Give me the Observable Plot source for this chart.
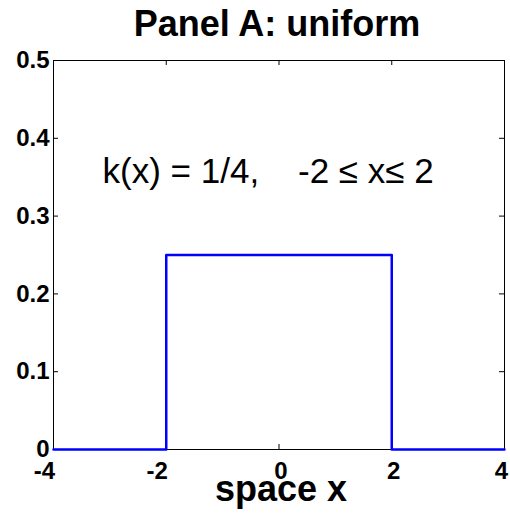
<!DOCTYPE html>
<html>
<head>
<meta charset="utf-8">
<script src="https://cdn.jsdelivr.net/npm/d3@7"></script>
<script src="https://cdn.jsdelivr.net/npm/@observablehq/plot@0.6"></script>
<style>
  body { margin: 0; background: #fff; }
  svg { font-family: "Liberation Sans", Arial, sans-serif; }
</style>
</head>
<body>
<div id="chart"></div>
<script>
// Uniform kernel k(x) = 1/4 on [-2, 2], zero elsewhere on [-4, 4]
const kernelX = [-4, -2, -2, 2, 2, 4];
const kernelY = [0, 0, 0.25, 0.25, 0, 0];

const xTicks = [-4, -2, 0, 2, 4];
const yTicks = [0, 0.1, 0.2, 0.3, 0.4, 0.5];

const titleText = "Panel A: uniform";
const xLabelText = "space x";
const noteText = "k(x) = 1/4,    -2 \u2264 x\u2264 2";
const noteX = -3.13;
const noteY = 0.357;

const kernel = kernelX.map((x, i) => ({x, y: kernelY[i]}));

const W = 510, H = 517;
const mL = 53, mR = 6, mT = 60, mB = 68;
const innerH = H - mT - mB;
const innerW = W - mL - mR;
const tickLen = 5;
const font = "Liberation Sans, Arial, sans-serif";
const tickFont = {fontSize: 24, fontWeight: "bold", fontFamily: font, fill: "black"};

// nudge tick labels so signed numbers sit like the original layout
const xLabelShift = d => (d < 0 ? -9 : d === 4 ? -3 : 2);

const chart = Plot.plot({
  width: W,
  height: H,
  marginLeft: mL,
  marginRight: mR,
  marginTop: mT,
  marginBottom: mB,
  x: {domain: [-4, 4], axis: null},
  y: {domain: [0, 0.5], axis: null},
  marks: [
    Plot.frame({stroke: "black", strokeWidth: 1}),
    // inward ticks on all four sides
    Plot.tickX(xTicks, {x: d => d, stroke: "black", insetTop: innerH - tickLen}),
    Plot.tickX(xTicks, {x: d => d, stroke: "black", insetBottom: innerH - tickLen}),
    Plot.tickY(yTicks, {y: d => d, stroke: "black", insetRight: innerW - tickLen}),
    Plot.tickY(yTicks, {y: d => d, stroke: "black", insetLeft: innerW - tickLen}),
    // y tick labels
    Plot.text(yTicks, {
      y: d => d, frameAnchor: "left", textAnchor: "end", dx: -4,
      text: d => String(d), ...tickFont
    }),
    // x tick labels
    ...xTicks.map(t => Plot.text([t], {
      x: d => d, frameAnchor: "bottom", lineAnchor: "middle", dy: 22, dx: xLabelShift(t),
      text: d => String(d), ...tickFont
    })),
    // kernel step line
    Plot.line(kernel, {x: "x", y: "y", stroke: "#0000ff", strokeWidth: 2.5, curve: "linear"}),
    // formula annotation
    Plot.text([noteText], {
      x: noteX, y: noteY, text: d => d, textAnchor: "start", lineAnchor: "middle",
      fontSize: 35, fontFamily: font, fill: "black"
    }),
    // x-axis label
    Plot.text([xLabelText], {
      frameAnchor: "bottom", lineAnchor: "bottom", dy: 51, dx: 2,
      text: d => d, fontSize: 36, fontWeight: "bold", fontFamily: font, fill: "black"
    }),
    // title
    Plot.text([titleText], {
      frameAnchor: "top", lineAnchor: "bottom", dy: -25, dx: -2,
      text: d => d, fontSize: 36, fontWeight: "bold", fontFamily: font, fill: "black"
    })
  ]
});

document.getElementById("chart").appendChild(chart);
</script>
</body>
</html>
